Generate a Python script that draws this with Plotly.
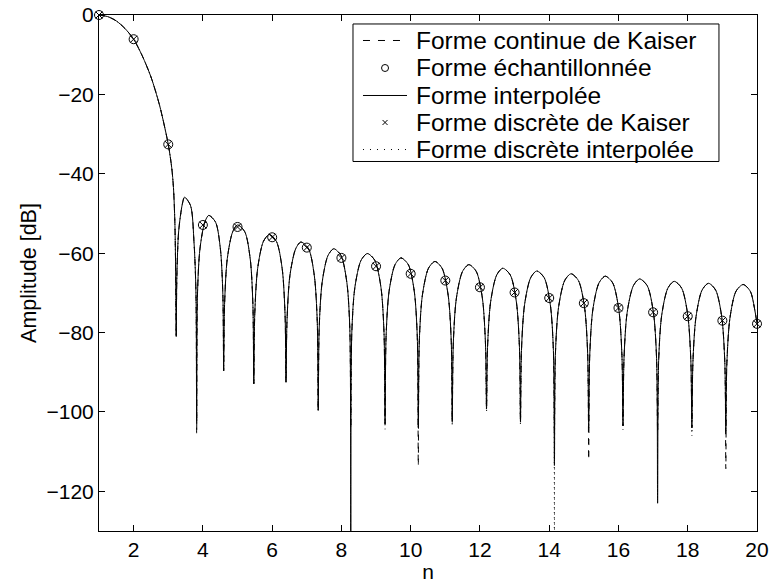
import plotly.graph_objects as go

# ---- data ----
n_samples = list(range(1, 21))
db_sampled = [0, -6.1, -32.6, -52.9, -53.4, -56.0, -58.6, -61.2, -63.3, -65.2,
              -66.9, -68.6, -69.9, -71.3, -72.6, -73.8, -74.9, -75.9, -77.0, -77.8]
db_discrete = list(db_sampled)

main_lobe_n = [1, 1.25, 1.5, 1.75, 2, 2.25, 2.5, 2.75, 3, 3.1, 3.15, 3.19, 3.21]
main_lobe_db = [0, -0.4, -1.5, -3.4, -6.1, -10.3, -15.6, -22.8, -32.6, -38.5, -43.5, -52, -62]

null_n = [3.23, 3.82, 4.60, 5.47, 6.40, 7.33, 8.27, 9.26, 10.22, 11.20,
          12.19, 13.17, 14.15, 15.14, 16.13, 17.13, 18.12, 19.10]
null_db_interp = [-81, -103, -89.6, -92.9, -92.5, -99.6, -140, -103, -104, -102.5,
                  -99.2, -102.5, -113.5, -104, -103.5, -123, -104, -105]
null_db_cont = [-81, -105.7, -89.6, -92.9, -92.5, -99.6, -104, -103, -113.5, -102.5,
                -99.2, -102.5, -105, -112, -103.5, -105, -104, -114.3]
null_db_disc = [-81, -103, -89.6, -92.9, -92.5, -100, -104, -104.4, -104, -103.5,
                -100, -103.3, -140, -104, -104.5, -105, -106, -105]

side_lobes_n = [
    [3.248, 3.301, 3.407, 3.47, 3.643, 3.745, 3.800],
    [3.843, 3.914, 4.054, 4.17, 4.366, 4.506, 4.577],
    [4.626, 4.704, 4.861, 5.00, 5.209, 5.366, 5.444],
    [5.498, 5.582, 5.749, 5.92, 6.121, 6.288, 6.372],
    [6.428, 6.512, 6.679, 6.83, 7.051, 7.218, 7.302],
    [7.358, 7.443, 7.612, 7.78, 7.988, 8.157, 8.242],
    [8.300, 8.389, 8.567, 8.75, 8.963, 9.141, 9.230],
    [9.289, 9.375, 9.548, 9.72, 9.932, 10.105, 10.191],
    [10.249, 10.338, 10.514, 10.70, 10.906, 11.082, 11.171],
    [11.230, 11.319, 11.497, 11.68, 11.893, 12.071, 12.160],
    [12.219, 12.308, 12.484, 12.66, 12.876, 13.052, 13.141],
    [13.199, 13.288, 13.464, 13.64, 13.856, 14.032, 14.121],
    [14.180, 14.269, 14.447, 14.63, 14.843, 15.021, 15.110],
    [15.170, 15.259, 15.437, 15.62, 15.833, 16.011, 16.100],
    [16.160, 16.250, 16.430, 16.61, 16.830, 17.010, 17.100],
    [17.160, 17.249, 17.427, 17.61, 17.823, 18.001, 18.090],
    [18.149, 18.238, 18.414, 18.60, 18.806, 18.982, 19.071],
    [19.129, 19.218, 19.394, 19.60, 19.806, 19.940, 20.000],
]
side_lobes_db = [
    [-65.9, -54.4, -47.6, -45.9, -48.0, -57.5, -70.0],
    [-70.5, -59.0, -52.2, -50.5, -52.2, -59.0, -70.5],
    [-72.9, -61.4, -54.6, -52.9, -54.6, -61.4, -72.9],
    [-75.3, -63.8, -57.0, -55.3, -57.0, -63.8, -75.3],
    [-77.2, -65.7, -58.9, -57.2, -58.9, -65.7, -77.2],
    [-78.9, -67.4, -60.6, -58.9, -60.6, -67.4, -78.9],
    [-80.1, -68.6, -61.8, -60.1, -61.8, -68.6, -80.1],
    [-81.2, -69.7, -62.9, -61.2, -62.9, -69.7, -81.2],
    [-82.1, -70.6, -63.8, -62.1, -63.8, -70.6, -82.1],
    [-82.9, -71.4, -64.6, -62.9, -64.6, -71.4, -82.9],
    [-83.8, -72.3, -65.5, -63.8, -65.5, -72.3, -83.8],
    [-84.5, -73.0, -66.2, -64.5, -66.2, -73.0, -84.5],
    [-85.2, -73.7, -66.9, -65.2, -66.9, -73.7, -85.2],
    [-85.8, -74.3, -67.5, -65.8, -67.5, -74.3, -85.8],
    [-86.5, -75.0, -68.2, -66.5, -68.2, -75.0, -86.5],
    [-87.1, -75.6, -68.8, -67.1, -68.8, -75.6, -87.1],
    [-87.6, -76.1, -69.3, -67.6, -69.3, -76.1, -87.6],
    [-87.9, -76.4, -69.6, -67.9, -69.6, -74.5, -77.8],
]

x_ticks = [2, 4, 6, 8, 10, 12, 14, 16, 18, 20]
y_ticks = [0, -20, -40, -60, -80, -100, -120]

labels = ["Forme continue de Kaiser", "Forme échantillonnée", "Forme interpolée",
          "Forme discrète de Kaiser", "Forme discrète interpolée"]


def build_curve(null_db):
    xs = list(main_lobe_n)
    ys = list(main_lobe_db)
    for i in range(len(null_n)):
        xs.append(null_n[i])
        ys.append(null_db[i])
        xs.extend(side_lobes_n[i])
        ys.extend(side_lobes_db[i])
    return xs, ys


FONT = "Liberation Sans, Arial, Helvetica, sans-serif"
DASH = "6px,6px"
DOT = "1px,4px"
fig = go.Figure()

cx, cy = build_curve(null_db_cont)
fig.add_trace(go.Scatter(x=cx, y=cy, mode="lines", name=labels[0], showlegend=False,
                         line=dict(color="black", width=1, dash=DASH, shape="spline", smoothing=0.8)))
dx, dy = build_curve(null_db_disc)
fig.add_trace(go.Scatter(x=dx, y=dy, mode="lines", name=labels[4], showlegend=False,
                         line=dict(color="black", width=1, dash=DOT, shape="spline", smoothing=0.8)))
ix, iy = build_curve(null_db_interp)
fig.add_trace(go.Scatter(x=ix, y=iy, mode="lines", name=labels[2], showlegend=False,
                         line=dict(color="black", width=1, shape="spline", smoothing=0.8)))
fig.add_trace(go.Scatter(x=n_samples, y=db_sampled, mode="markers", name=labels[1], showlegend=False,
                         cliponaxis=False,
                         marker=dict(symbol="circle-open", size=9, color="black", line=dict(width=1, color="black"))))
fig.add_trace(go.Scatter(x=n_samples, y=db_discrete, mode="markers", name=labels[3], showlegend=False,
                         cliponaxis=False,
                         marker=dict(symbol="x-thin-open", size=7, color="black", line=dict(width=1, color="black"))))

# ---- legend box drawn with paper-referenced shapes and text ----
leg_x0, leg_x1, leg_y0, leg_y1 = 0.386, 0.9422, 0.7161, 0.9826
row_y = [0.9506, 0.8973, 0.8440, 0.7917, 0.7393]
sym_x0, sym_x1, sym_xc = 0.4012, 0.4681, 0.4347
text_x = 0.4787

shapes = [dict(type="rect", xref="paper", yref="paper", x0=leg_x0, x1=leg_x1, y0=leg_y0, y1=leg_y1,
               line=dict(color="black", width=1), fillcolor="white", layer="above")]
# row 1: dashed
shapes.append(dict(type="line", xref="paper", yref="paper", x0=sym_x0, x1=sym_x1, y0=row_y[0], y1=row_y[0],
                   line=dict(color="black", width=1, dash="7px,8px"), layer="above"))
# row 2: circle marker
shapes.append(dict(type="circle", xref="paper", yref="paper", xsizemode="pixel", ysizemode="pixel",
                   xanchor=sym_xc, yanchor=row_y[1], x0=-3.5, x1=3.5, y0=-3.5, y1=3.5,
                   line=dict(color="black", width=1), layer="above"))
# row 3: solid
shapes.append(dict(type="line", xref="paper", yref="paper", x0=sym_x0, x1=sym_x1, y0=row_y[2], y1=row_y[2],
                   line=dict(color="black", width=1), layer="above"))
# row 4: x marker
for a, b in ((-2.5, 2.5), (2.5, -2.5)):
    shapes.append(dict(type="line", xref="paper", yref="paper", xsizemode="pixel", ysizemode="pixel",
                       xanchor=sym_xc, yanchor=row_y[3], x0=-2.5, x1=2.5, y0=a, y1=b,
                       line=dict(color="black", width=1), layer="above"))
# row 5: dotted
shapes.append(dict(type="line", xref="paper", yref="paper", x0=sym_x0, x1=sym_x1, y0=row_y[4], y1=row_y[4],
                   line=dict(color="black", width=1, dash="1px,6px"), layer="above"))

annotations = [dict(x=text_x, y=row_y[i], xref="paper", yref="paper", text=labels[i], showarrow=False,
                    xanchor="left", yanchor="middle", font=dict(family=FONT, size=24.5, color="black"))
               for i in range(5)]

fig.update_layout(
    width=771, height=583,
    margin=dict(l=99, r=14, t=15, b=52),
    paper_bgcolor="white", plot_bgcolor="white",
    font=dict(family=FONT, size=21, color="black"),
    showlegend=False,
    shapes=shapes, annotations=annotations,
)
fig.update_xaxes(range=[1, 20], tickvals=x_ticks, ticks="inside", ticklen=6, tickcolor="black",
                 showline=True, linecolor="black", linewidth=1, mirror="ticks", showgrid=False,
                 zeroline=False, automargin=False,
                 title=dict(text="n", standoff=5, font=dict(size=21)))
fig.update_yaxes(range=[-130, 0], tickvals=y_ticks, ticks="inside", ticklen=6, tickcolor="black",
                 showline=True, linecolor="black", linewidth=1, mirror="ticks", showgrid=False,
                 zeroline=False, automargin=False,
                 title=dict(text="Amplitude [dB]", standoff=3, font=dict(size=21.5)))

fig.write_html("out.html")
